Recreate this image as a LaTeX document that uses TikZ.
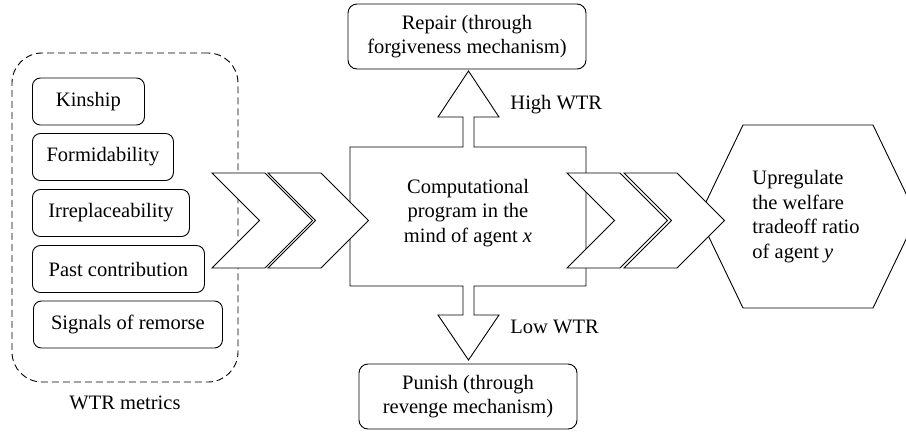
\documentclass[tikz,border=0pt]{standalone}
\usepackage{fontspec}
\setmainfont{Liberation Serif}
\usetikzlibrary{calc}
\begin{document}
\begin{tikzpicture}[x=1pt,y=-1pt,
  line width=0.9pt,
  every node/.style={font=\fontsize{20.5}{24.5}\selectfont, text=black},
  metricbox/.style={draw=black, rounded corners=8pt, minimum height=47pt, anchor=west, inner sep=0pt},
  outbox/.style={draw=black, rounded corners=9pt, minimum height=65pt, align=center, inner sep=0pt},
  shapeline/.style={draw=black, fill=white, line join=miter},
  label/.style={anchor=west, inner sep=0pt}
]
\useasboundingbox (0,0) rectangle (906,432);

% group of metrics
\node[draw=black, dashed, dash pattern=on 7pt off 4pt, rounded corners=30pt,
      minimum width=226pt, minimum height=329pt, inner sep=0pt] (group) at (125,217.5) {};
\node (grouplabel) at (125,403) {WTR metrics};

\node[metricbox, minimum width=112pt] (kin) at (32,101.5) {Kinship};
\node[metricbox, minimum width=141pt] (form) at (32,157) {Formidability};
\node[metricbox, minimum width=157pt] (irr) at (32,213) {Irreplaceability};
\node[metricbox, minimum width=172pt] (past) at (32,269) {Past contribution};
\node[metricbox, minimum width=189pt] (sig) at (33,324.5) {Signals of remorse};

% output boxes
\node[outbox, minimum width=238pt] (repair) at (467,36.5) {Repair (through\\forgiveness mechanism)};
\node[outbox, minimum width=218pt] (punish) at (468,396.5) {Punish (through\\revenge mechanism)};

% central program shape with up and down arrows
\coordinate (upTip) at (468.5,71);
\coordinate (downTip) at (468.5,360);
\path[shapeline] (350,147) -- (463,147) -- (463,117) -- (438,117) -- (upTip)
  -- (499,117) -- (474,117) -- (474,147) -- (586,147) -- (586,286)
  -- (474,286) -- (474,315) -- (499,315) -- (downTip) -- (438,315)
  -- (463,315) -- (463,286) -- (350,286) -- cycle;
\node (prog) at (468,213) [align=center] {Computational\\program in the\\mind of agent \textit{x}};

\node[label] (high) at (510,105) {High WTR};
\node[label] (low) at (510,327) {Low WTR};

% hexagon
\coordinate (hL) at (699,216.5);
\coordinate (hTL) at (743,125);
\coordinate (hTR) at (873,125);
\coordinate (hR) at (917,216.5);
\coordinate (hBR) at (873,308);
\coordinate (hBL) at (743,308);
\path[shapeline] (hL) -- (hTL) -- (hTR) -- (hR) -- (hBR) -- (hBL) -- cycle;
\node[anchor=west, align=left, inner sep=0pt] (upreg) at (752,216.5)
  {Upregulate\\the welfare\\tradeoff ratio\\of agent \textit{y}};

% chevrons
\foreach \L/\nm in {212/c1, 268/c2, 567/c3, 624/c4}{
  \path[shapeline] (\L,173) -- ({\L+53},173) -- ({\L+100.5},220.5)
    -- ({\L+53},268) -- (\L,268) -- ({\L+47.5},220.5) -- cycle;
  \coordinate (\nm) at ({\L+47.5},220.5);
}
\end{tikzpicture}
\end{document}
